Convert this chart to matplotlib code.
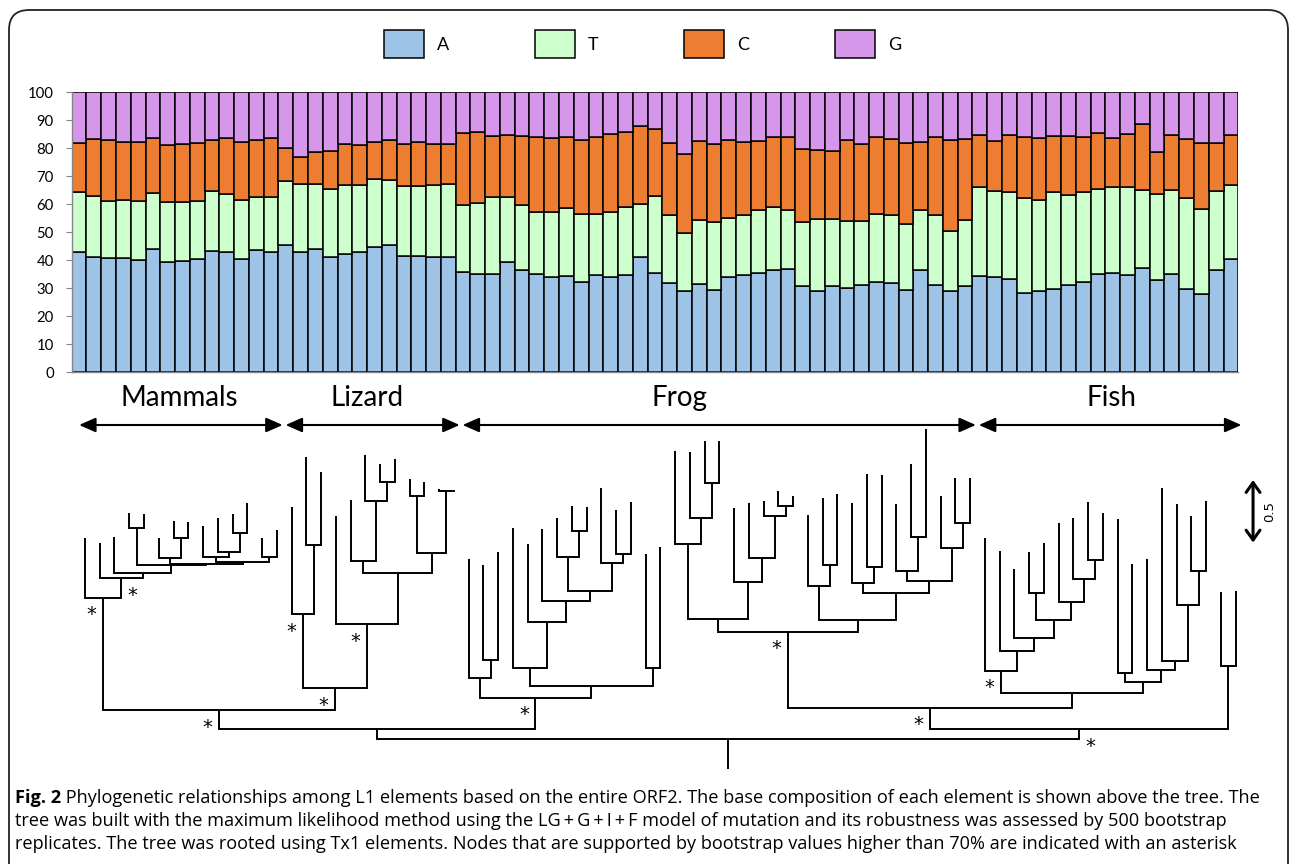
import matplotlib
matplotlib.use('Agg')
import numpy as np
import matplotlib.pyplot as plt
from matplotlib.patches import Patch, FancyBboxPatch
from matplotlib.transforms import blended_transform_factory

plt.rcParams['font.family'] = ['Lato', 'DejaVu Sans']

# base composition (%) of each element, left to right
A = [42.7, 41.2, 40.6, 40.6, 39.9, 43.8, 39.4, 39.7, 40.5, 43.2, 42.9, 40.4, 43.4, 42.8,
     45.2, 43.0, 44.1, 40.9, 42.3, 42.9, 44.8, 45.3, 41.5, 41.5, 41.2, 41.2,
     35.7, 35.0, 34.9, 39.3, 36.3, 34.9, 33.8, 34.3, 32.1, 34.5, 33.9, 34.8, 41.2, 35.4,
     31.8, 28.8, 31.6, 29.2, 33.9, 34.6, 35.2, 36.4, 36.8, 30.7, 28.9, 30.8, 29.9, 31.1,
     32.0, 31.8, 29.3, 36.3, 31.1, 28.9, 30.6,
     34.2, 33.9, 33.3, 28.2, 28.8, 29.6, 30.9, 32.3, 35.0, 35.2, 34.6, 37.3, 32.7, 35.0,
     29.6, 27.8, 36.6, 40.5]
T = [21.7, 21.5, 20.3, 20.8, 21.2, 20.2, 21.4, 21.0, 20.4, 21.3, 20.8, 21.1, 19.1, 19.7,
     23.1, 24.0, 22.9, 24.6, 24.6, 23.8, 24.1, 23.4, 24.8, 24.9, 25.5, 25.8,
     23.9, 25.5, 27.6, 23.2, 23.4, 22.4, 23.2, 24.4, 24.5, 22.0, 23.2, 24.2, 18.7, 27.6,
     24.4, 20.9, 22.8, 24.4, 21.2, 21.6, 22.5, 22.6, 21.1, 22.7, 25.7, 23.9, 24.2, 22.9,
     24.5, 24.1, 23.7, 21.6, 24.9, 21.6, 23.8,
     31.8, 30.6, 31.1, 34.0, 32.6, 34.8, 32.2, 32.1, 30.2, 30.8, 31.6, 27.8, 30.7, 30.1,
     32.6, 30.5, 28.1, 26.4]
C = [17.4, 20.6, 21.9, 20.9, 20.9, 19.6, 20.2, 20.8, 20.8, 18.5, 19.9, 20.8, 20.2, 21.0,
     11.7, 9.9, 11.4, 13.6, 14.5, 14.2, 13.2, 14.0, 15.3, 15.6, 14.9, 14.4,
     25.9, 25.3, 21.8, 22.1, 24.6, 26.6, 26.5, 25.1, 26.4, 27.5, 27.8, 26.7, 27.9, 23.7,
     25.5, 28.1, 28.0, 27.7, 27.6, 26.0, 24.9, 24.8, 25.9, 26.2, 24.6, 24.1, 28.6, 27.5,
     27.5, 27.4, 28.7, 24.4, 28.1, 32.2, 28.8,
     18.7, 18.0, 20.3, 21.6, 22.0, 19.9, 21.2, 19.7, 20.0, 17.4, 18.7, 23.4, 15.0, 19.7,
     21.0, 23.5, 17.0, 17.8]
G = [18.2, 16.7, 17.2, 17.7, 18.0, 16.4, 19.0, 18.5, 18.3, 17.0, 16.4, 17.7, 17.3, 16.5,
     20.0, 23.1, 21.6, 20.9, 18.6, 19.1, 17.9, 17.3, 18.4, 18.0, 18.4, 18.6,
     14.5, 14.2, 15.7, 15.4, 15.7, 16.1, 16.5, 16.2, 17.0, 16.0, 15.1, 14.3, 12.2, 13.3,
     18.3, 22.2, 17.6, 18.7, 17.3, 17.8, 17.4, 16.2, 16.2, 20.4, 20.8, 21.2, 17.3, 18.5,
     16.0, 16.7, 18.3, 17.7, 15.9, 17.3, 16.8,
     15.3, 17.5, 15.3, 16.2, 16.6, 15.7, 15.7, 15.9, 14.8, 16.6, 15.1, 11.5, 21.6, 15.2,
     16.8, 18.2, 18.3, 15.3]

bases = ['A', 'T', 'C', 'G']
base_colors = ['#9DC3E6', '#CCFFCC', '#ED7D31', '#D696EA']

groups = ['Mammals', 'Lizard', 'Frog', 'Fish']
group_sizes = [14, 12, 35, 18]
group_label_x = [6.4, 19.1, 40.3, 69.6]

# ML tree, branch lengths in substitutions/site; '*' = bootstrap > 70%
# ('*r' puts the asterisk on the right of the branch)
mammals = ("(0:0.475,(1:0.285,(2:0.283,((3:0.115,4:0.107):0.301,((5:0.16,(6:0.138,7:0.133):0.16):0.042,"
           "((8:0.25,(9:0.272,(10:0.146,11:0.24):0.155):0.042):0.038,(12:0.15,13:0.216):0.038):0.014)"
           ":0.014):0.059):0.045)*r:0.155)*")
lizard = ("((14:0.856,(15:0.709,16:0.589):0.552)*:0.592,(17:0.866,((18:0.486,(19:0.366,(20:0.146,"
          "21:0.186):0.147):0.48):0.098,((22:0.136,23:0.11):0.454,(24:0.012,25:0.004):0.496):0.162)"
          ":0.408)*:0.514)*")
frog_a = ("((26:0.952,(27:0.76,28:0.864):0.146):0.155,((29:1.125,(30:0.626,(31:0.578,((32:0.307,"
          "(33:0.2,34:0.194):0.206):0.272,(35:0.6,(36:0.35,37:0.414):0.077):0.219):0.082):0.17):0.368)"
          ":0.139,(38:0.912,39:0.973):0.139):0.096)*")
frog_b = ("(((40:0.744,(41:0.528,(42:0.341,43:0.341):0.28):0.206):0.598,(44:0.592,(45:0.445,(46:0.118,"
          "(47:0.122,48:0.08):0.078):0.341):0.192):0.291):0.104,((49:0.566,(50:0.538,51:0.566):0.166)"
          ":0.274,((52:0.64,(53:0.739,54:0.734):0.133):0.075,((55:0.534,(56:0.579,57:0.859):0.274)"
          ":0.078,(58:0.414,(59:0.355,60:0.36):0.2):0.264):0.096):0.218):0.094)*")
fish = ("((61:1.059,(62:0.798,(63:0.552,((64:0.333,65:0.405):0.214,(66:0.637,(67:0.493,(68:0.466,"
        "69:0.378):0.154):0.184):0.142):0.146):0.099):0.16)*:0.176,((70:1.227,71:0.87):0.072,"
        "(72:0.886,(73:1.379,(74:0.806,(75:0.438,76:0.56):0.274):0.446):0.074):0.094):0.088)")
tx1 = "(77:0.594,78:0.6)"
newick = (f"((({mammals}:0.898,{lizard}:0.174)*:0.154,{frog_a}:0.253):0.08,"
          f"(({frog_b}:0.608,{fish}:0.12)*:0.173,{tx1}:0.506)*r:0.08);")
root_stem = 0.24


def parse(s):
    s = s.strip().rstrip(';')
    pos = 0

    def node():
        nonlocal pos
        kids = []
        if s[pos] == '(':
            pos += 1
            while True:
                kids.append(node())
                if s[pos] == ',':
                    pos += 1
                else:
                    break
            pos += 1
        start = pos
        while pos < len(s) and s[pos] not in ':,()':
            pos += 1
        label = s[start:pos]
        length = 0.0
        if pos < len(s) and s[pos] == ':':
            pos += 1
            start = pos
            while pos < len(s) and s[pos] not in ',()':
                pos += 1
            length = float(s[start:pos])
        return {'children': kids, 'label': label, 'length': length}

    return node()


def layout(n, depth=0.0):
    n['depth'] = depth + n['length']
    if n['children']:
        for c in n['children']:
            layout(c, n['depth'])
        n['x'] = (n['children'][0]['x'] + n['children'][-1]['x']) / 2
    else:
        n['x'] = int(n['label'])


tree = parse(newick)
layout(tree)

# figure
fig = plt.figure(figsize=(12.9, 8.64), dpi=100)

frame = FancyBboxPatch((0.09, -0.3), 12.79, 8.84, boxstyle='round,pad=0,rounding_size=0.2',
                       transform=fig.dpi_scale_trans, fill=False, edgecolor='#222222', lw=1.3)
fig.add_artist(frame)

# stacked bars
ax = fig.add_axes([71.7 / 1290, 1 - 372 / 864, 1166.6 / 1290, 280 / 864])
x = np.arange(len(A))
bottom = np.zeros(len(A))
for vals, col in zip([A, T, C, G], base_colors):
    ax.bar(x, vals, width=1.0, bottom=bottom, color=col, edgecolor='black', linewidth=1.1)
    bottom = bottom + np.array(vals)
ax.set_xlim(-0.5, len(A) - 0.5)
ax.set_ylim(0, 100)
ax.set_yticks(range(0, 101, 10))
ax.set_xticks([])
for sp in ['top', 'right']:
    ax.spines[sp].set_visible(False)
for sp in ['left', 'bottom']:
    ax.spines[sp].set_color('#868686')
    ax.spines[sp].set_linewidth(1.0)
ax.tick_params(axis='y', length=4, color='#868686', labelsize=10.7, pad=9)

handles = [Patch(facecolor=c, edgecolor='black', linewidth=1.1, label=b)
           for b, c in zip(bases, base_colors)]
fig.legend(handles=handles, loc='center', bbox_to_anchor=(642.5 / 1290, 1 - 44 / 864), ncol=4,
           frameon=False, prop={'family': 'Lato', 'size': 13}, handlelength=2.22,
           handleheight=2.0, handletextpad=0.72, columnspacing=4.75)

# tree
tx = fig.add_axes([0, 84 / 864, 1, 400 / 864])
tx.set_xlim(-85 / 14.75, 1205 / 14.75)
tx.set_ylim(-40.7 / 125, 359.3 / 125)
tx.axis('off')


def draw(n):
    for c in n['children']:
        draw(c)
    if n['children']:
        c0, c1 = n['children'][0], n['children'][-1]
        tx.plot([c0['x'], c0['x'], c1['x'], c1['x']],
                [c0['depth'], n['depth'], n['depth'], c1['depth']],
                color='black', lw=1.4, solid_joinstyle='miter', solid_capstyle='butt')
    if n['label'].startswith('*'):
        dx = 8.2 if n['label'] == '*r' else -8.3
        tx.annotate('*', xy=(n['x'], n['depth']), xytext=(dx, -16.3), textcoords='offset points',
                    ha='center', va='baseline', fontsize=14, family='DejaVu Sans')


draw(tree)
tx.plot([tree['x'], tree['x']], [-root_stem, 0], color='black', lw=1.4, solid_capstyle='butt')

# group arrows and names
trans = blended_transform_factory(tx.transData, tx.transAxes)
edges = np.concatenate([[0], np.cumsum(group_sizes)]) - 0.5
for name, lx, a, b in zip(groups, group_label_x, edges[:-1], edges[1:]):
    tx.annotate('', xy=(a + 0.1, 0.8875), xytext=(b - 0.1, 0.8875), xycoords=trans, textcoords=trans,
                arrowprops=dict(arrowstyle='<|-|>,head_length=0.5,head_width=0.22', lw=1.5,
                                color='black', shrinkA=0, shrinkB=0, mutation_scale=20))
    tx.text(lx, 0.955, name, transform=trans, ha='center', va='center', fontsize=20)

# scale bar
tx.annotate('', xy=(79.19, 1.574), xytext=(79.19, 2.074),
            arrowprops=dict(arrowstyle='<->,head_length=0.35,head_width=0.25', lw=2.2,
                            color='black', shrinkA=0, shrinkB=0, mutation_scale=20))
tx.text(80.3, 1.824, '0.5', rotation=90, ha='center', va='center', fontsize=9.5,
        family='DejaVu Sans')

# caption
cax = fig.add_axes([0, 0, 1, 1], zorder=-1)
cax.axis('off')
fs = 13.1
bold = cax.text(15 / 1290, 1 - 803 / 864, 'Fig. 2', fontweight='bold', fontsize=fs,
                family='Open Sans', va='baseline')
cax.annotate(' Phylogenetic relationships among L1 elements based on the entire ORF2. The base '
             'composition of each element is shown above the tree. The',
             xy=(1, 0), xycoords=bold, va='bottom', ha='left', fontsize=fs, family='Open Sans')
cax.text(15 / 1290, 1 - 826 / 864,
         'tree was built with the maximum likelihood method using the LG\u2009+\u2009G\u2009+\u2009I\u2009+\u2009F '
         'model of mutation and its robustness was assessed by 500 bootstrap',
         fontsize=fs, family='Open Sans', va='baseline')
cax.text(15 / 1290, 1 - 849 / 864,
         'replicates. The tree was rooted using Tx1 elements. Nodes that are supported by bootstrap '
         'values higher than 70% are indicated with an asterisk',
         fontsize=fs, family='Open Sans', va='baseline')

fig.savefig('out.png', dpi=100)
